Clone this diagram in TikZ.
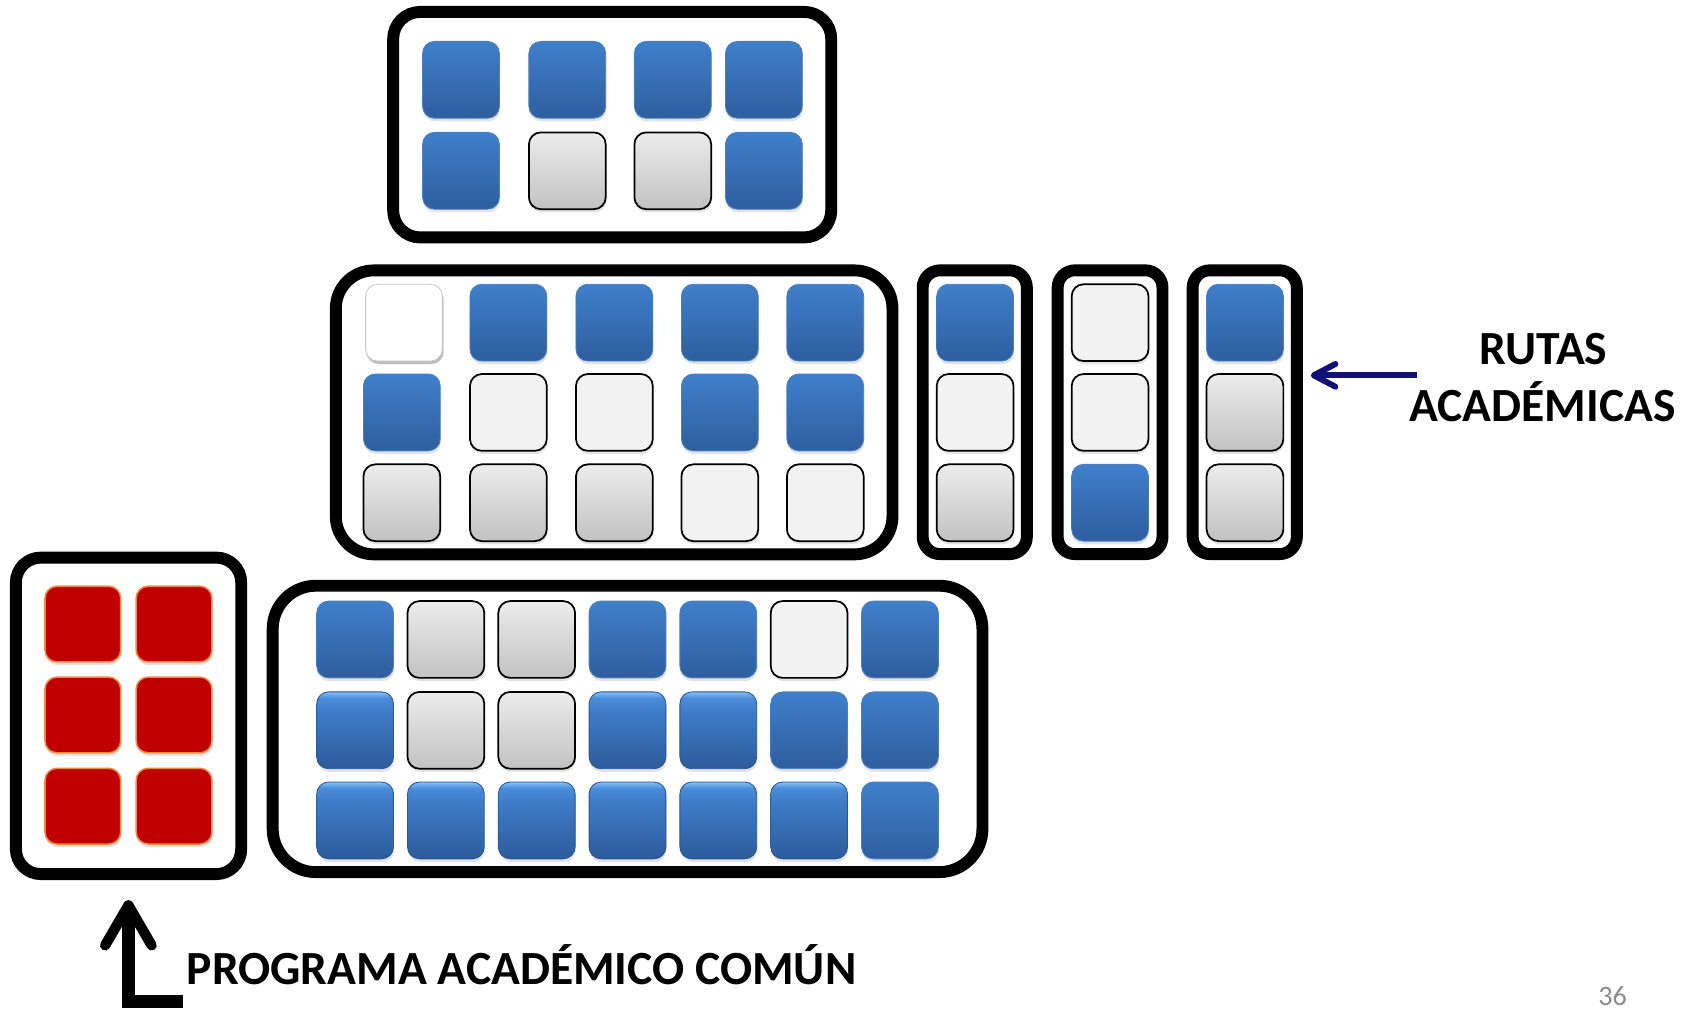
\documentclass[tikz,border=0pt]{standalone}
\usepackage{fontspec}
\newfontfamily\carl{Carlito}
\usetikzlibrary{shadows,calc}
\definecolor{bluetop}{HTML}{3F7FCB}
\definecolor{bluebot}{HTML}{2E5E9E}
\definecolor{blueedge}{HTML}{4A7FC0}
\definecolor{bevhi}{HTML}{7DBBF6}
\definecolor{bevup}{HTML}{4A8CDA}
\definecolor{bevmid}{HTML}{3E7CC8}
\definecolor{bevbot}{HTML}{2C5B9B}
\definecolor{bevedge}{HTML}{2A5690}
\definecolor{greytop}{HTML}{ECECEC}
\definecolor{greybot}{HTML}{C2C2C2}
\definecolor{lightfill}{HTML}{F2F2F2}
\definecolor{redfill}{HTML}{C00000}
\definecolor{rededge}{HTML}{F28A3E}
\definecolor{navyarrow}{RGB}{18,18,118}
\definecolor{pagenum}{HTML}{8B8B8B}
\pgfdeclareverticalshading{tileblue}{100bp}{color(0bp)=(bluebot); color(25bp)=(bluebot); color(75bp)=(bluetop); color(100bp)=(bluetop)}
\pgfdeclareverticalshading{tilebevel}{100bp}{color(0bp)=(bevbot); color(25bp)=(bevbot); color(62bp)=(bevmid); color(71bp)=(bevup); color(74.5bp)=(bevhi); color(100bp)=(bevhi)}
\tikzset{
  tilebase/.style={minimum width=71pt, minimum height=71pt, inner sep=0pt, rounded corners=11pt,
    drop shadow={opacity=0.22, shadow xshift=0.6pt, shadow yshift=-3pt}},
  tileB/.style={tilebase, shading=tileblue, draw=blueedge, line width=0.8pt},
  tileV/.style={tilebase, shading=tilebevel, draw=bevedge, line width=0.8pt},
  tileG/.style={tilebase, top color=greytop, bottom color=greybot, draw=black, line width=1.6pt},
  tileL/.style={tilebase, fill=lightfill, draw=black, line width=1.6pt},
  tileW/.style={tilebase, fill=white, draw=black!22, line width=0.8pt,
    drop shadow={opacity=0.4, shadow xshift=1.2pt, shadow yshift=-2.5pt}},
  tileR/.style={tilebase, fill=redfill, draw=rededge, line width=1.4pt, minimum width=70pt, minimum height=70pt},
  frame/.style={draw=black, line width=11pt, fill=white, inner sep=0pt},
  lbl/.style={font=\carl\bfseries\fontsize{44}{53}\selectfont, text=black},
}
\begin{document}
\begin{tikzpicture}[x=1pt, y=-1pt]
\fill[white] (0,0) rectangle (1568,932);
\useasboundingbox (0,0) rectangle (1568,932);

% frames
\node[frame, minimum width=405pt, minimum height=208.5pt, rounded corners=25pt] (topbox) at (566,115.25) {};
\node[frame, minimum width=514.6pt, minimum height=262.5pt, rounded corners=35pt] (midbox) at (567.8,381.25) {};
\node[frame, minimum width=96.3pt, minimum height=262.4pt, rounded corners=16pt] (nbox1) at (901.2,381.1) {};
\node[frame, minimum width=96.9pt, minimum height=262.4pt, rounded corners=16pt] (nbox2) at (1026.3,381.1) {};
\node[frame, minimum width=96.3pt, minimum height=262.4pt, rounded corners=16pt] (nbox3) at (1150.8,381.1) {};
\node[frame, minimum width=656.2pt, minimum height=264.8pt, rounded corners=40pt] (botbox) at (580.2,673.9) {};
\node[frame, minimum width=208.3pt, minimum height=292.6pt, rounded corners=23pt] (redbox) at (118.85,661.8) {};

% top box tiles
\foreach \t [count=\i] in {B,B,B,B} {
  \pgfmathsetmacro{\xx}{{426.2,524.5,622,706.2}[\i-1]}
  \node[tile\t] (top-1-\i) at (\xx,73.8) {};
}
\foreach \t [count=\i] in {B,G,G,B} {
  \pgfmathsetmacro{\xx}{{426.2,524.5,622,706.2}[\i-1]}
  \node[tile\t] (top-2-\i) at (\xx,157.9) {};
}

% middle box tiles
\foreach \t [count=\i] in {W,B,B,B,B} {
  \pgfmathsetmacro{\xx}{{373.5,470,568,665.5,763}[\i-1]}
  \node[tile\t] (mid-1-\i) at (\xx,298.3) {};
}
\foreach \t [count=\i] in {B,L,L,B,B} {
  \pgfmathsetmacro{\xx}{{371.5,470,568,665.5,763}[\i-1]}
  \node[tile\t] (mid-2-\i) at (\xx,381.3) {};
}
\foreach \t [count=\i] in {G,G,G,L,L} {
  \pgfmathsetmacro{\xx}{{371.5,470,568,665.5,763}[\i-1]}
  \node[tile\t] (mid-3-\i) at (\xx,464.8) {};
}

% narrow boxes
\foreach \t [count=\j] in {B,L,G} {
  \pgfmathsetmacro{\yy}{{298.3,381.3,464.8}[\j-1]}
  \node[tile\t] (na-\j) at (901.5,\yy) {};
}
\foreach \t [count=\j] in {L,L,B} {
  \pgfmathsetmacro{\yy}{{298.3,381.3,464.8}[\j-1]}
  \node[tile\t] (nb-\j) at (1026.3,\yy) {};
}
\foreach \t [count=\j] in {B,G,G} {
  \pgfmathsetmacro{\yy}{{298.3,381.3,464.8}[\j-1]}
  \node[tile\t] (nc-\j) at (1151,\yy) {};
}

% bottom box tiles
\foreach \t [count=\i] in {B,G,G,B,B,L,B} {
  \node[tile\t] (bot-1-\i) at ({328.3+83.95*(\i-1)},591.2) {};
}
\foreach \t [count=\i] in {V,G,G,V,V,B,B} {
  \node[tile\t] (bot-2-\i) at ({328.3+83.95*(\i-1)},675.2) {};
}
\foreach \t [count=\i] in {V,V,V,V,V,V,B} {
  \node[tile\t] (bot-3-\i) at ({328.3+83.95*(\i-1)},758.5) {};
}

% red tiles
\foreach \yy [count=\j] in {577,661,745.3} {
  \node[tileR] (red-\j-1) at (76.6,\yy) {};
  \node[tileR] (red-\j-2) at (160.9,\yy) {};
}

% labels
\node[lbl, anchor=base] (rutasA) at (1427,337) {RUTAS};
\node[lbl, anchor=base] (rutasB) at (1426,390) {ACADÉMICAS};
\node[lbl, anchor=base west, inner sep=0pt] (comun) at (172.5,910.5) {PROGRAMA ACADÉMICO COMÚN};
\node[font=\carl\fontsize{26}{30}\selectfont, text=pagenum, anchor=base, inner sep=0pt] (pnum) at (1491,929.5) {36};

% navy arrow to the academic routes
\coordinate (rtail) at (1310,347);
\coordinate (rtip) at (1214.6,347);
\draw[navyarrow, line width=5.5pt] (rtail) -- ($(rtip)+(2,0)$);
\draw[navyarrow, line width=5.5pt, line cap=round, line join=round]
  ($(rtip)+(20,-10.5)$) -- (rtip) -- ($(rtip)+(20,10.5)$);

% black arrow to the common programme
\coordinate (ptip) at (118.7,837);
\coordinate (pfoot) at (169.5,926);
\draw[black, line width=11.5pt, line join=miter] (pfoot) -- (118.7,926) -- ($(ptip)+(0,4)$);
\draw[black, line width=9.5pt, line cap=round, line join=round]
  ($(ptip)+(-21.5,37)$) -- (ptip) -- ($(ptip)+(21.5,37)$);
\end{tikzpicture}
\end{document}
